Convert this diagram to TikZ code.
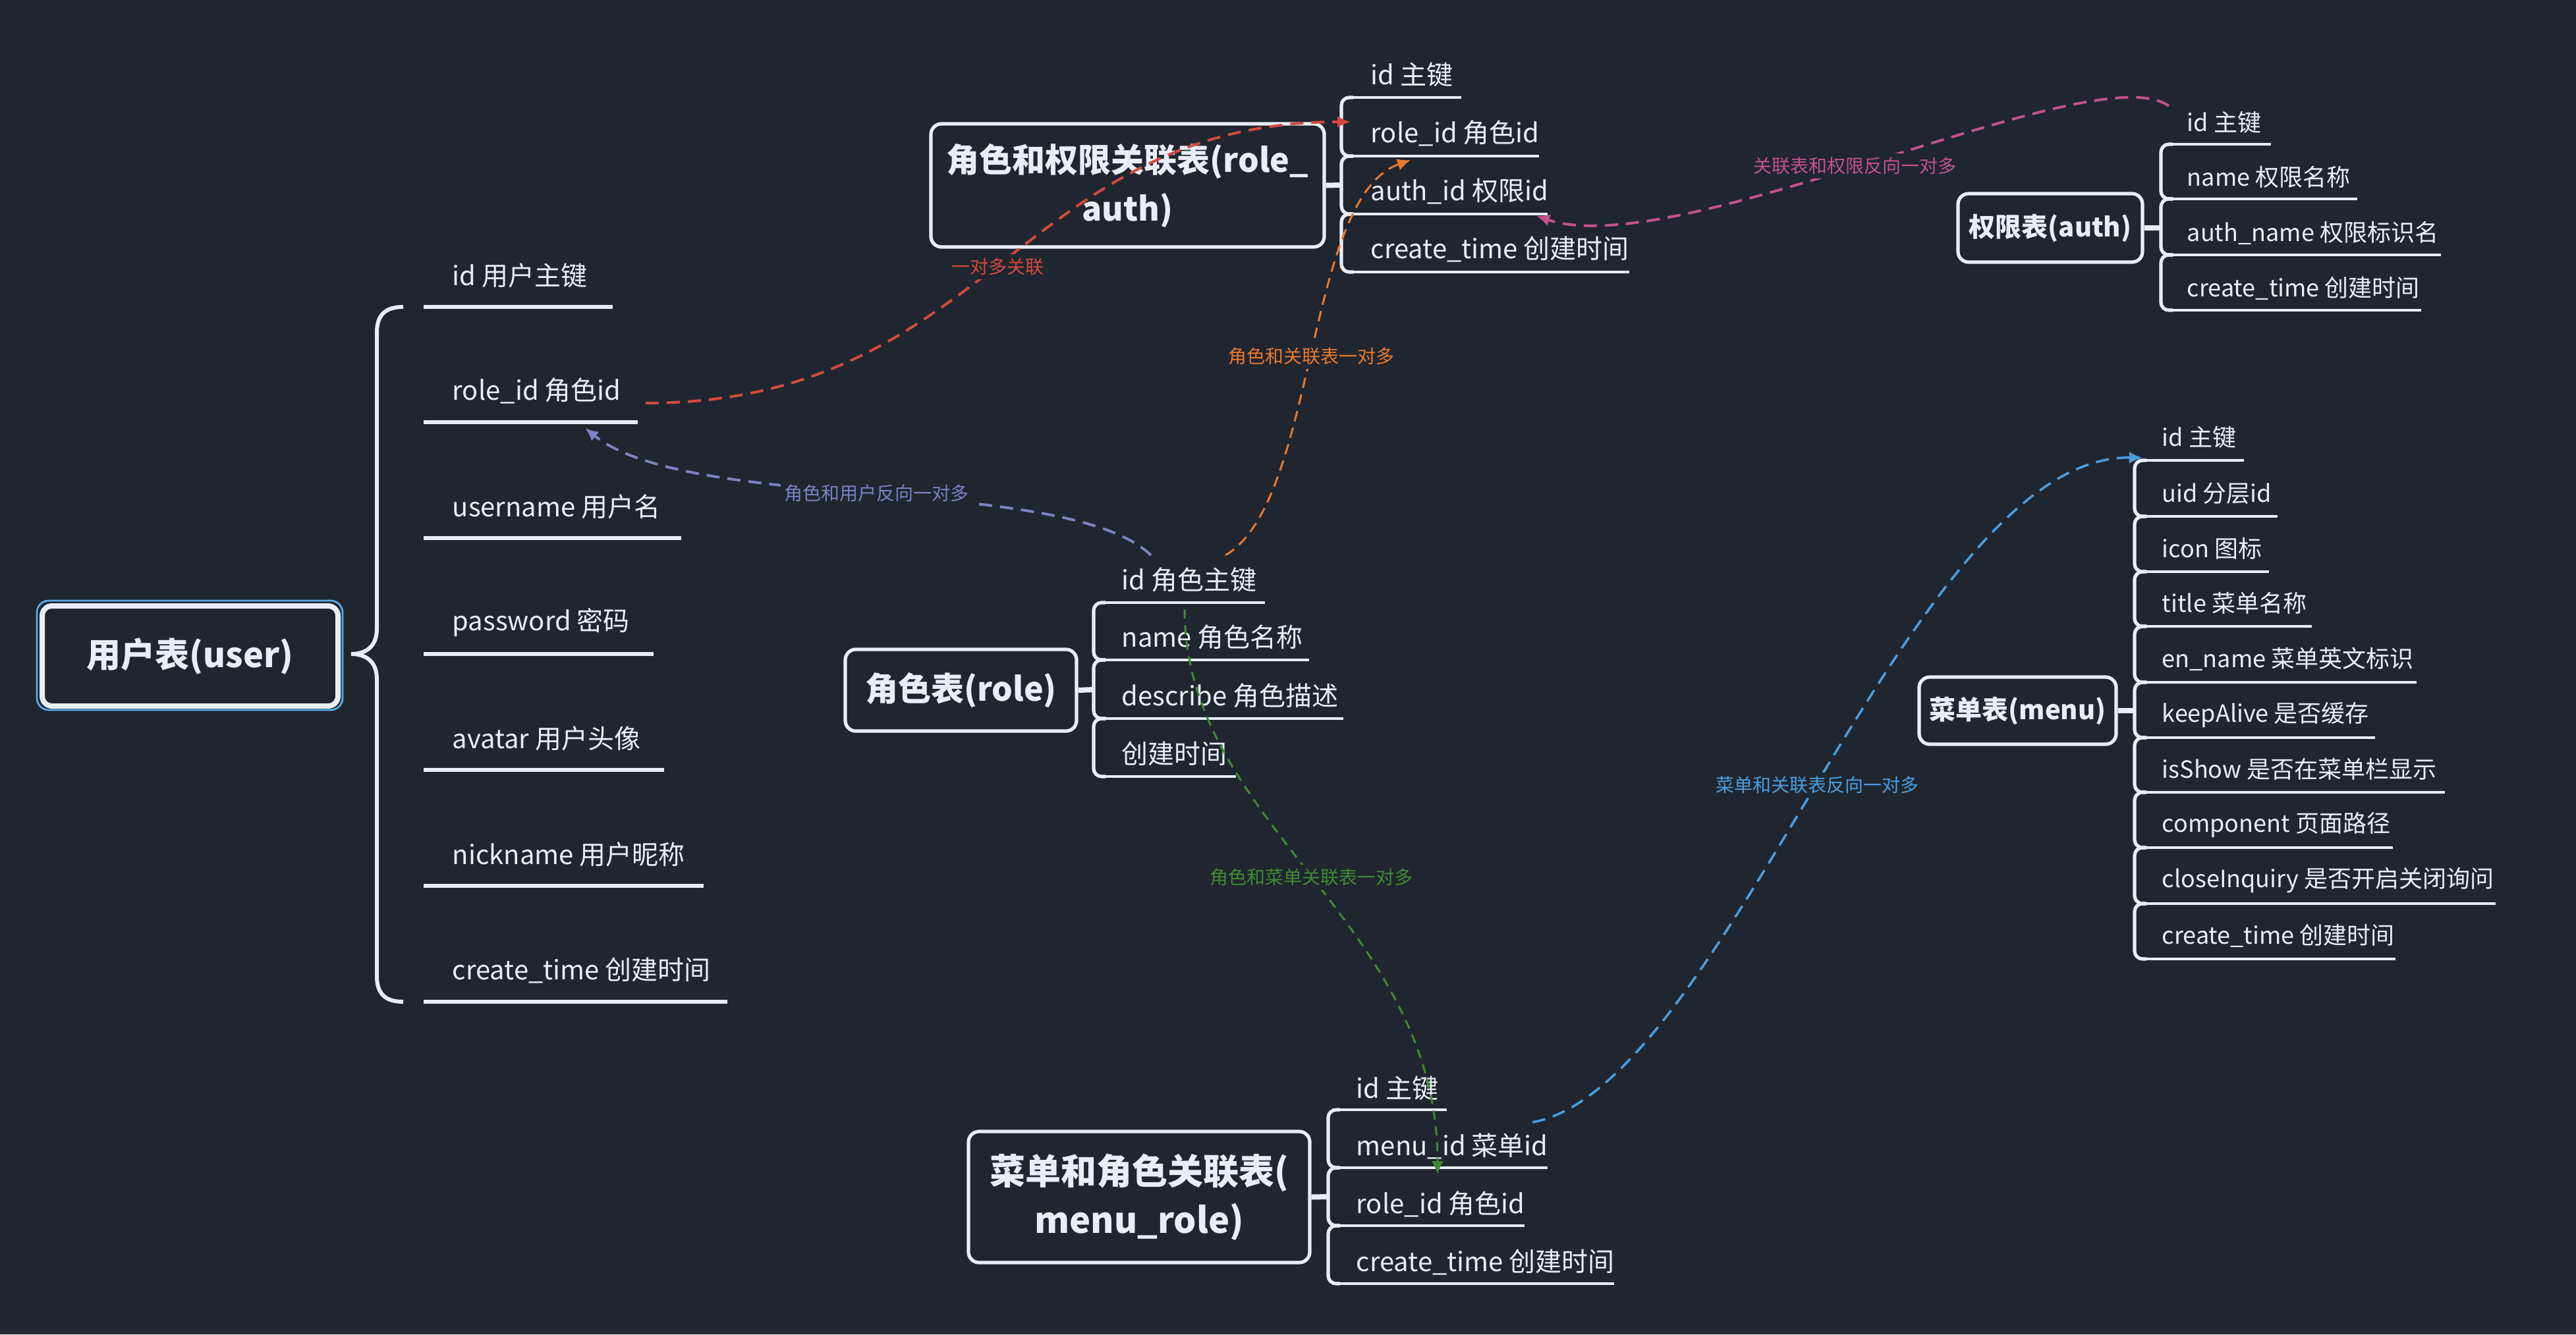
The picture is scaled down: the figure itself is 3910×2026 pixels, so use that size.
\documentclass[tikz,border=0pt]{standalone}
\usepackage{fontspec}
\setmainfont{Noto Sans CJK SC}
\usetikzlibrary{arrows.meta}
\definecolor{bg}{HTML}{20262F}
\definecolor{fg}{HTML}{E9EEF6}
\definecolor{hlblue}{HTML}{58ABE6}
\definecolor{cred}{HTML}{D24A3E}
\definecolor{cslate}{HTML}{7C82C2}
\definecolor{corange}{HTML}{E8792C}
\definecolor{cpink}{HTML}{C2528C}
\definecolor{cgreen}{HTML}{3F8A30}
\definecolor{cblue}{HTML}{4A9DE0}
\newcommand\bigttl[1]{\fontsize{#1}{18.5}\selectfont\bfseries}
\newcommand\smallttl{\fontsize{10}{12}\selectfont\bfseries}
\tikzset{
  item/.style={anchor=west, inner sep=0pt, text=fg, font=\fontsize{10}{12}\selectfont},
  sitem/.style={item, font=\fontsize{9}{11}\selectfont},
  uline/.style={draw=fg, line width=1.1pt},
  brk/.style={draw=fg, line width=1.3pt, rounded corners=3pt},
  stub/.style={draw=fg, line width=2pt},
  tbox/.style={draw=fg, line width=1.3pt, rounded corners=4pt, fill=bg, text=fg, align=center, inner sep=0pt},
  rel/.style={line width=1pt, dash pattern=on 5pt off 3pt, -{Latex[length=5pt,width=4.5pt]}},
  lbl/.style={fill=bg, inner sep=1.5pt, font=\fontsize{7}{8}\selectfont},
}
\begin{document}
\begin{tikzpicture}[x=0.25pt,y=-0.25pt]
\fill[bg] (0,0) rectangle (3910,2026);
\useasboundingbox (0,0) rectangle (3910,2026);

% ---------------- user table ----------------
\node[draw=hlblue, line width=0.7pt, rounded corners=4.5pt, minimum width=116pt, minimum height=41.5pt, inner sep=0pt] (userhl) at (288,995) {};
\node[tbox, line width=2pt, rounded corners=3.75pt, minimum width=112.25pt, minimum height=38pt, font=\bigttl{13}] (user) at (288.5,996) {用户表(user)};
\draw[fg, line width=1.5pt] (612,466) .. controls (585,466) and (572,478) .. (572,505) -- (572,955)
  .. controls (572,982) and (555,993) .. (533,993)
  .. controls (555,993) and (572,1004) .. (572,1031) -- (572,1482)
  .. controls (572,1509) and (585,1521) .. (612,1521);
\foreach \ly/\le/\n/\txt in {466/930/1/id 用户主键, 641/968/2/role\_id 角色id, 817/1034/3/username 用户名, 993/992/4/password 密码, 1169/1008/5/avatar 用户头像, 1345/1068/6/nickname 用户昵称, 1521/1104/7/create\_time 创建时间}{
  \draw[uline, line width=1.5pt] (643,\ly) -- (\le,\ly);
  \node[item] (u\n) at (686,\ly-48) {\txt};
}

% ---------------- role_auth table ----------------
\node[tbox, minimum width=149.25pt, minimum height=46.75pt, font=\bigttl{12.5}] (ra) at (1711.5,281.5) {角色和权限关联表(role\_\\auth)};
\draw[stub] (ra.east) -- (2036,281);
\foreach \a/\b in {148/237,237/325,325/413}{
  \draw[brk] (2054,\a) -- (2036,\a) -- (2036,\b) -- (2054,\b);
}
\foreach \ly/\le/\n/\txt in {148/2218/1/id 主键, 237/2336/2/role\_id 角色id, 325/2349/3/auth\_id 权限id, 413/2473/4/create\_time 创建时间}{
  \draw[uline] (2050,\ly) -- (\le,\ly);
  \node[item] (ra\n) at (2080,\ly-35) {\txt};
}

% ---------------- role table ----------------
\node[tbox, minimum width=87.75pt, minimum height=31pt, font=\bigttl{12.5}] (role) at (1458.5,1048) {角色表(role)};
\draw[stub] (role.east) -- (1660,1047);
\foreach \a/\b in {915/1002,1002/1091,1091/1179}{
  \draw[brk] (1678,\a) -- (1660,\a) -- (1660,\b) -- (1678,\b);
}
\foreach \ly/\le/\n/\txt in {915/1920/1/id 角色主键, 1002/1987/2/name 角色名称, 1091/2039/3/describe 角色描述, 1179/1876/4/创建时间}{
  \draw[uline] (1674,\ly) -- (\le,\ly);
  \node[item] (ro\n) at (1702,\ly-35) {\txt};
}

% ---------------- auth table ----------------
\node[tbox, minimum width=70pt, minimum height=26pt, font=\smallttl] (auth) at (3112,346) {权限表(auth)};
\draw[stub] (auth.east) -- (3280,346);
\foreach \a/\b in {219/302,302/387,387/471}{
  \draw[brk] (3298,\a) -- (3280,\a) -- (3280,\b) -- (3298,\b);
}
\foreach \ly/\le/\n/\txt in {219/3447/1/id 主键, 302/3578/2/name 权限名称, 387/3705/3/auth\_name 权限标识名, 471/3675/4/create\_time 创建时间}{
  \draw[uline] (3294,\ly) -- (\le,\ly);
  \node[sitem] (au\n) at (3319,\ly-33) {\txt};
}

% ---------------- menu table ----------------
\node[tbox, minimum width=74.75pt, minimum height=25.5pt, font=\smallttl] (menu) at (3062.5,1079) {菜单表(menu)};
\draw[stub] (menu.east) -- (3240,1079);
\foreach \a/\b in {699/784,784/868,868/951,951/1036,1036/1120,1120/1203,1203/1287,1287/1372,1372/1456}{
  \draw[brk] (3258,\a) -- (3240,\a) -- (3240,\b) -- (3258,\b);
}
\foreach \ly/\le/\n/\txt in {699/3406/1/id 主键, 784/3457/2/uid 分层id, 868/3444/3/icon 图标, 951/3509/4/title 菜单名称, 1036/3668/5/en\_name 菜单英文标识, 1120/3605/6/keepAlive 是否缓存, 1203/3711/7/isShow 是否在菜单栏显示, 1287/3632/8/component 页面路径, 1372/3788/9/closeInquiry 是否开启关闭询问, 1456/3636/10/create\_time 创建时间}{
  \draw[uline] (3254,\ly) -- (\le,\ly);
  \node[sitem] (me\n) at (3281,\ly-35) {\txt};
}

% ---------------- menu_role table ----------------
\node[tbox, minimum width=129.5pt, minimum height=49.75pt, font=\bigttl{13.5}] (mr) at (1729,1817.5) {菜单和角色关联表(\\menu\_role)};
\draw[stub] (mr.east) -- (2016,1817);
\foreach \a/\b in {1685/1773,1773/1861,1861/1949}{
  \draw[brk] (2034,\a) -- (2016,\a) -- (2016,\b) -- (2034,\b);
}
\foreach \ly/\le/\n/\txt in {1685/2196/1/id 主键, 1773/2349/2/menu\_id 菜单id, 1861/2314/3/role\_id 角色id, 1949/2450/4/create\_time 创建时间}{
  \draw[uline] (2030,\ly) -- (\le,\ly);
  \node[item] (mr\n) at (2058,\ly-33) {\txt};
}

% ---------------- relation end points ----------------
\coordinate (redS) at (980,612);    \coordinate (redE) at (2050,185);
\coordinate (slS) at (1747,843);    \coordinate (slE) at (888,650);
\coordinate (orS) at (1860,843);    \coordinate (orE) at (2141,243);
\coordinate (piS) at (3292,161);    \coordinate (piE) at (2332,328);
\coordinate (grS) at (1798,925);    \coordinate (grE) at (2182,1783);
\coordinate (blS) at (2326,1704);   \coordinate (blE) at (3252,695);

% ---------------- relations ----------------
\draw[rel, cred] (redS) .. controls (1500,612) and (1550,185) .. (redE)
  node[lbl, text=cred, pos=0.49] {一对多关联};
\draw[rel, cslate] (slS) .. controls (1620,720) and (1050,780) .. (slE)
  node[lbl, text=cslate, pos=0.5] {角色和用户反向一对多};
\draw[rel, corange, line width=0.75pt, dash pattern=on 4pt off 2.5pt] (orS) .. controls (2000,760) and (1980,300) .. (orE)
  node[lbl, text=corange, pos=0.49] {角色和关联表一对多};
\draw[rel, cpink] (piS) .. controls (3180,80) and (2550,400) .. (piE)
  node[lbl, text=cpink, pos=0.53] {关联表和权限反向一对多};
\draw[rel, cgreen, line width=0.75pt, dash pattern=on 3.5pt off 2.5pt] (grS) .. controls (1798,1250) and (2182,1400) .. (grE)
  node[lbl, text=cgreen, pos=0.5] {角色和菜单关联表一对多};
\draw[rel, cblue, line width=0.9pt] (blS) .. controls (2620,1650) and (2900,690) .. (blE)
  node[lbl, text=cblue, pos=0.49] {菜单和关联表反向一对多};
\end{tikzpicture}
\end{document}
